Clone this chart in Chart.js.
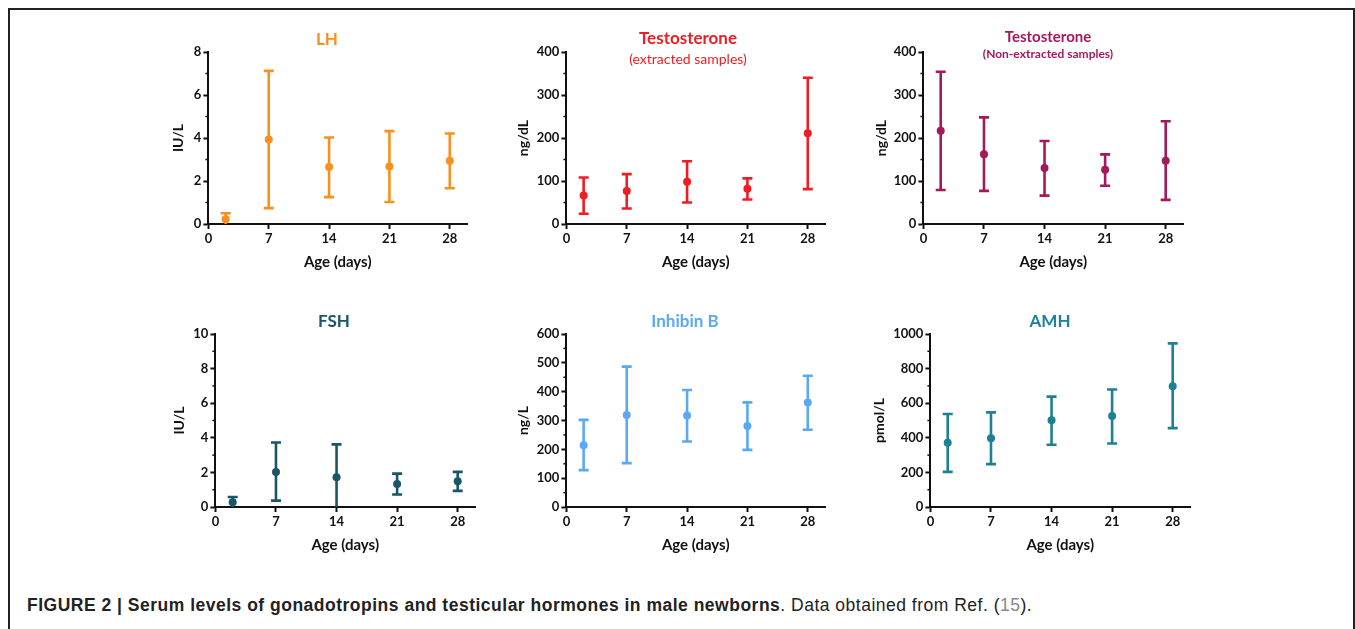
<!DOCTYPE html>
<html>
<head>
<meta charset="utf-8">
<script src="https://cdn.jsdelivr.net/npm/chart.js@4.4.0/dist/chart.umd.min.js"></script>
<style>
  html, body { margin: 0; padding: 0; background: #fff; }
  body { width: 1355px; height: 629px; position: relative; overflow: hidden; font-family: Lato, sans-serif; }
  .frame { position: absolute; left: 8px; top: 8px; width: 1343px; height: 700px; border: 2px solid #222; }
  .panel { position: absolute; }
  .ttl { position: absolute; transform: translate(-50%, -50%); white-space: nowrap; font-weight: 700; line-height: 1; }
  .caption { position: absolute; left: 27px; top: 595px; line-height: 20px; font-family: "Liberation Sans", Arial, sans-serif; font-size: 17.5px; letter-spacing: 0.5px; color: #222; white-space: nowrap; }
  .caption b { font-weight: 700; }
  .caption .ref { color: #888; }
</style>
</head>
<body>
<div class="frame"></div>
<div class="caption"><b>FIGURE 2 | Serum levels of gonadotropins and testicular hormones in male newborns</b>. Data obtained from Ref. (<span class="ref">15</span>).</div>

<script>
// Edad (días) de cada punto y marcas del eje x
const ages = [2, 7, 14, 21, 28];
const ageTicks = [0, 7, 14, 21, 28];

// LH (IU/L): media, límite inferior y superior
const lhMean = [0.22, 3.93, 2.65, 2.68, 2.94];
const lhLow  = [-0.1, 0.74, 1.25, 1.02, 1.66];
const lhHigh = [0.5, 7.12, 4.02, 4.32, 4.21];

// Testosterona, muestras extraídas (ng/dL)
const teMean = [66, 77, 98, 82, 211];
const teLow  = [24, 36, 50, 57, 81];
const teHigh = [108, 116, 146, 106, 340];

// Testosterona, muestras no extraídas (ng/dL)
const tnMean = [217, 162, 130, 126, 147];
const tnLow  = [79, 77, 66, 89, 56];
const tnHigh = [354, 248, 193, 162, 239];

// FSH (IU/L)
const fshMean = [0.27, 2.03, 1.72, 1.33, 1.49];
const fshLow  = [-0.1, 0.37, -0.2, 0.72, 0.93];
const fshHigh = [0.58, 3.73, 3.62, 1.93, 2.03];

// Inhibina B (ng/L)
const inhMean = [214, 319, 317, 281, 362];
const inhLow  = [128, 152, 227, 198, 268];
const inhHigh = [302, 487, 406, 363, 455];

// AMH (pmol/L)
const amhMean = [371, 398, 501, 526, 698];
const amhLow  = [203, 248, 360, 367, 456];
const amhHigh = [538, 547, 638, 679, 946];

const FONT = 'Lato';
const INK = '#111';

// Posición de cada panel en la página (área de trazado) y estilo
const panels = [
  { mean: lhMean,  low: lhLow,  high: lhHigh,  color: '#F7901E', yLabel: 'IU/L',   yMax: 8,    step: 2,   minor: 1,   L: 208, R: 467,  T: 52,  B: 224, gap: 30 },
  { mean: teMean,  low: teLow,  high: teHigh,  color: '#EE1D23', yLabel: 'ng/dL',  yMax: 400,  step: 100, minor: 50,  L: 566, R: 825,  T: 52,  B: 224, gap: 43 },
  { mean: tnMean,  low: tnLow,  high: tnHigh,  color: '#A3195B', yLabel: 'ng/dL',  yMax: 400,  step: 100, minor: 50,  L: 923, R: 1183, T: 52,  B: 224, gap: 42 },
  { mean: fshMean, low: fshLow, high: fshHigh, color: '#1B5568', yLabel: 'IU/L',   yMax: 10,   step: 2,   minor: 1,   L: 215, R: 475,  T: 334, B: 507, gap: 36 },
  { mean: inhMean, low: inhLow, high: inhHigh, color: '#5BA8F5', yLabel: 'ng/L',   yMax: 600,  step: 100, minor: 50,  L: 566, R: 825,  T: 334, B: 507, gap: 43 },
  { mean: amhMean, low: amhLow, high: amhHigh, color: '#1B8194', yLabel: 'pmol/L', yMax: 1000, step: 200, minor: 100, L: 930, R: 1190, T: 334, B: 507, gap: 51 }
];

// Títulos de cada panel (texto HTML encima del canvas)
const titles = [
  { text: 'LH', x: 327, y: 38, size: 17, color: '#F7901E' },
  { text: 'Testosterone', x: 688, y: 37, size: 17, color: '#EE1D23' },
  { text: '(extracted samples)', x: 688, y: 59, size: 14, color: '#EE1D23', weight: 400 },
  { text: 'Testosterone', x: 1048, y: 36, size: 15, color: '#A3195B' },
  { text: '(Non-extracted samples)', x: 1048, y: 54, size: 12, color: '#A3195B' },
  { text: 'FSH', x: 334, y: 320, size: 17, color: '#1B5568' },
  { text: 'Inhibin B', x: 685, y: 320, size: 17, color: '#5BA8F5' },
  { text: 'AMH', x: 1050, y: 320, size: 17, color: '#1B8194' }
];

// Barras de error dibujadas con las escalas del gráfico
const errorBars = {
  id: 'errorBars',
  beforeDatasetsDraw(chart) {
    const { ctx, chartArea, scales: { x, y } } = chart;
    ctx.save();
    ctx.beginPath();
    ctx.rect(chartArea.left - 10, chartArea.top - 10, chartArea.width + 20, chartArea.height + 10);
    ctx.clip();
    chart.data.datasets.forEach(ds => {
      ctx.strokeStyle = ds.borderColor;
      ctx.lineWidth = 2.6;
      ds.data.forEach((pt, i) => {
        const px = x.getPixelForValue(pt.x);
        const lo = y.getPixelForValue(ds.low[i]);
        const hi = y.getPixelForValue(ds.high[i]);
        ctx.beginPath();
        ctx.moveTo(px, lo); ctx.lineTo(px, hi);
        ctx.moveTo(px - 5, lo); ctx.lineTo(px + 5, lo);
        ctx.moveTo(px - 5, hi); ctx.lineTo(px + 5, hi);
        ctx.stroke();
      });
    });
    ctx.restore();
  }
};

// Marcas menores del eje y
const minorTicks = {
  id: 'minorTicks',
  afterDraw(chart, args, opts) {
    const { ctx, chartArea, scales: { y } } = chart;
    ctx.save();
    ctx.strokeStyle = INK;
    ctx.lineWidth = 1.5;
    for (let v = opts.minor; v < y.max; v += opts.minor) {
      if (Math.abs(v / opts.step - Math.round(v / opts.step)) < 1e-6) continue;
      const py = y.getPixelForValue(v);
      ctx.beginPath();
      ctx.moveTo(chartArea.left - 3, py);
      ctx.lineTo(chartArea.left, py);
      ctx.stroke();
    }
    ctx.restore();
  }
};

const PAD_TOP = 12, PAD_RIGHT = 10, X_H = 47;

panels.forEach(p => {
  const yW = p.gap + 8.4;
  const w = Math.round(yW + (p.R - p.L) + PAD_RIGHT);
  const h = Math.round(PAD_TOP + (p.B - p.T) + X_H);
  const div = document.createElement('div');
  div.className = 'panel';
  div.style.left = (p.L - yW) + 'px';
  div.style.top = (p.T - PAD_TOP) + 'px';
  const canvas = document.createElement('canvas');
  canvas.width = w; canvas.height = h;
  canvas.style.width = w + 'px'; canvas.style.height = h + 'px';
  div.appendChild(canvas);
  document.body.appendChild(div);

  new Chart(canvas, {
    type: 'scatter',
    data: {
      datasets: [{
        data: ages.map((a, i) => ({ x: a, y: p.mean[i] })),
        low: p.low,
        high: p.high,
        backgroundColor: p.color,
        borderColor: p.color,
        pointRadius: 4,
        pointHoverRadius: 4,
        pointBorderWidth: 0
      }]
    },
    options: {
      responsive: false,
      animation: false,
      layout: { padding: { top: PAD_TOP, right: PAD_RIGHT, left: 0, bottom: 0 } },
      plugins: {
        legend: { display: false },
        tooltip: { enabled: false },
        minorTicks: { minor: p.minor, step: p.step }
      },
      scales: {
        x: {
          type: 'linear', min: 0, max: 30,
          afterBuildTicks: s => { s.ticks = ageTicks.map(v => ({ value: v })); },
          afterFit: s => { s.height = X_H; },
          grid: { drawOnChartArea: false, drawTicks: true, tickLength: 5, tickWidth: 2, tickColor: INK },
          border: { display: true, color: INK, width: 2 },
          ticks: { color: INK, padding: 2, maxRotation: 0, autoSkip: false, font: { family: FONT, weight: 'bold', size: 13 } },
          title: { display: true, text: 'Age (days)', color: INK, padding: 0, font: { family: FONT, weight: 'bold', size: 15 } }
        },
        y: {
          min: 0, max: p.yMax,
          afterFit: s => { s.width = yW; },
          grid: { drawOnChartArea: false, drawTicks: true, tickLength: 5, tickWidth: 2, tickColor: INK },
          border: { display: true, color: INK, width: 2 },
          ticks: { stepSize: p.step, color: INK, padding: 2, callback: v => String(v), font: { family: FONT, weight: 'bold', size: 13 } },
          title: { display: true, text: p.yLabel, color: INK, padding: 0, font: { family: FONT, weight: 'bold', size: 14 } }
        }
      }
    },
    plugins: [errorBars, minorTicks]
  });
});

titles.forEach(t => {
  const d = document.createElement('div');
  d.className = 'ttl';
  d.textContent = t.text;
  d.style.left = t.x + 'px';
  d.style.top = t.y + 'px';
  d.style.fontSize = t.size + 'px';
  d.style.color = t.color;
  if (t.weight) d.style.fontWeight = t.weight;
  document.body.appendChild(d);
});
</script>
</body>
</html>
